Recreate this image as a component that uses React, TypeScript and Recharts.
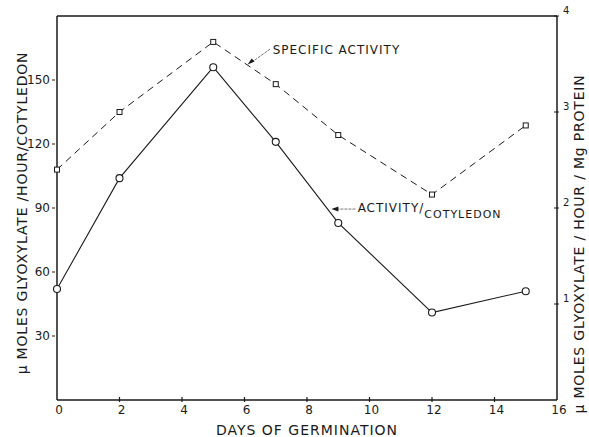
import {
  ComposedChart,
  Line,
  XAxis,
  YAxis,
  ReferenceLine,
  ReferenceDot,
} from 'recharts';

const days = [0, 2, 5, 7, 9, 12, 15];
const activityPerCotyledon = [52, 104, 156, 121, 83, 41, 51];
const specificActivity = [2.4, 3.0, 3.73, 3.29, 2.76, 2.14, 2.86];

const xTicks = [0, 2, 4, 6, 8, 10, 12, 14, 16];
const leftTicks = [30, 60, 90, 120, 150];
const rightTicks = [1, 2, 3, 4];

const data = days.map((d, i) => ({
  day: d,
  activity: activityPerCotyledon[i],
  specific: specificActivity[i],
}));

const FONT = '"DejaVu Sans", sans-serif';
const INK = '#1a1a1a';

function XTick(props: any) {
  const { x, y, payload } = props;
  return (
    <g>
      {payload.value !== 0 && payload.value !== 16 && (
        <line x1={x} y1={y} x2={x} y2={y - 5} stroke={INK} strokeWidth={1.2} />
      )}
      <text x={x + 2} y={y + 12} textAnchor="middle" fontSize={12} fill={INK} fontFamily={FONT}>
        {payload.value}
      </text>
    </g>
  );
}

function LeftTick(props: any) {
  const { x, y, payload } = props;
  return (
    <g>
      <line x1={x} y1={y} x2={x - 3} y2={y} stroke={INK} strokeWidth={1} />
      <text x={x - 5} y={y + 4} textAnchor="end" fontSize={12} fill={INK} fontFamily={FONT}>
        {payload.value}
      </text>
    </g>
  );
}

function RightTick(props: any) {
  const { x, y, payload } = props;
  return (
    <g>
      <line x1={x} y1={y} x2={x - 5} y2={y} stroke={INK} strokeWidth={1} />
      <text x={x + 4} y={y - 2} textAnchor="start" fontSize={10} fill={INK} fontFamily={FONT}>
        {payload.value}
      </text>
    </g>
  );
}

// rotated axis title, placed at a given x inside the axis box
function VLabel(props: any) {
  const { viewBox, value, atX, shiftY } = props;
  const x = viewBox.x + atX;
  const y = viewBox.y + viewBox.height / 2 + (shiftY || 0);
  return (
    <text
      x={x}
      y={y}
      transform={`rotate(-90, ${x}, ${y})`}
      textAnchor="middle"
      dominantBaseline="central"
      fontSize={14}
      fill={INK}
      fontFamily={FONT}
      letterSpacing={0.8}
    >
      {value}
    </text>
  );
}

function SquareDot(props: any) {
  const { cx, cy } = props;
  if (cx == null || cy == null) return null;
  return <rect x={cx - 2.5} y={cy - 2.5} width={5} height={5} fill="#fff" stroke={INK} strokeWidth={1} />;
}

function TextLabel(props: any) {
  const { viewBox, value, sub } = props;
  const x = viewBox.x;
  const y = viewBox.y;
  return (
    <text x={x} y={y + 5} fontSize={12} fill={INK} fontFamily={FONT} letterSpacing={1}>
      {value}
      {sub && (
        <tspan dy={6} fontSize={11}>
          {sub}
        </tspan>
      )}
    </text>
  );
}

function Arrow(props: any) {
  const { cx, cy, dir } = props;
  if (cx == null) return null;
  const pts =
    dir === 'left'
      ? `${cx},${cy} ${cx + 7},${cy - 2.5} ${cx + 7},${cy + 2.5}`
      : `${cx},${cy} ${cx + 4},${cy - 6} ${cx + 7},${cy - 3}`;
  return <polygon points={pts} fill={INK} />;
}

export default function App() {
  return (
    <div style={{ position: 'absolute', left: 0, top: 0, background: '#fff' }}>
      <ComposedChart
        width={589}
        height={437}
        data={data}
        margin={{ top: 16, right: 0, bottom: 0, left: 0 }}
      >
        <XAxis
          dataKey="day"
          type="number"
          domain={[0, 16]}
          ticks={xTicks}
          tickSize={0}
          tickLine={false}
          tick={<XTick />}
          height={37}
          stroke={INK}
          strokeWidth={1.5}
          label={{
            value: 'DAYS  OF  GERMINATION',
            position: 'insideBottom',
            offset: 2,
            fontSize: 14,
            fill: INK,
            fontFamily: FONT,
            letterSpacing: 1,
          }}
        />
        <YAxis
          yAxisId="left"
          domain={[0, 180]}
          ticks={leftTicks}
          width={57}
          tickSize={0}
          tickLine={false}
          tick={<LeftTick />}
          stroke={INK}
          strokeWidth={1.5}
          label={<VLabel value="µ MOLES GLYOXYLATE /HOUR/COTYLEDON" atX={22} shiftY={5} />}
        />
        <YAxis
          yAxisId="right"
          orientation="right"
          domain={[0, 4]}
          ticks={rightTicks}
          width={32}
          tickSize={0}
          tickLine={false}
          tick={<RightTick />}
          stroke={INK}
          strokeWidth={1.5}
          label={<VLabel value="µ  MOLES  GLYOXYLATE / HOUR / Mg  PROTEIN" atX={22} shiftY={36} />}
        />
        <ReferenceLine yAxisId="left" y={180} stroke={INK} strokeWidth={1.5} />

        <Line
          yAxisId="right"
          dataKey="specific"
          stroke={INK}
          strokeWidth={1}
          strokeDasharray="7 5"
          dot={<SquareDot />}
          isAnimationActive={false}
        />
        <Line
          yAxisId="left"
          dataKey="activity"
          stroke={INK}
          strokeWidth={1.1}
          dot={{ r: 3.5, fill: '#fff', stroke: INK, strokeWidth: 1.1 }}
          isAnimationActive={false}
        />

        {/* annotation: specific activity */}
        <ReferenceLine
          yAxisId="left"
          segment={[
            { x: 6.82, y: 164.5 },
            { x: 6.2, y: 158 },
          ]}
          stroke="#555"
          strokeWidth={0.8}
          strokeDasharray="3 1"
        />
        <ReferenceDot yAxisId="left" x={6.1} y={157.3} r={0} shape={<Arrow dir="down" />} />
        <ReferenceDot
          yAxisId="left"
          x={6.9}
          y={164.5}
          r={0}
          label={<TextLabel value="SPECIFIC  ACTIVITY" />}
        />

        {/* annotation: activity per cotyledon */}
        <ReferenceLine
          yAxisId="left"
          segment={[
            { x: 9.55, y: 89.5 },
            { x: 9.0, y: 89.5 },
          ]}
          stroke="#555"
          strokeWidth={0.8}
          strokeDasharray="3 1"
        />
        <ReferenceDot yAxisId="left" x={8.78} y={89.5} r={0} shape={<Arrow dir="left" />} />
        <ReferenceDot
          yAxisId="left"
          x={9.62}
          y={90.5}
          r={0}
          label={<TextLabel value="ACTIVITY/" sub="COTYLEDON" />}
        />
      </ComposedChart>
    </div>
  );
}
